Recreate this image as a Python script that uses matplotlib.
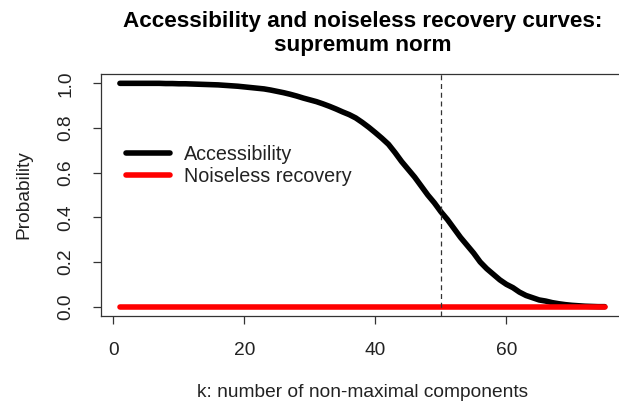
import numpy as np
from matplotlib import pyplot as plt

plt.rcParams['font.family'] = ['Liberation Sans', 'DejaVu Sans']

# k = 1..75
k = np.arange(1, 76)

accessibility = [1.0, 1.0, 1.0, 1.0, 1.0, 1.0, 1.0, 0.999, 0.999, 0.998,
                 0.998, 0.997, 0.996, 0.995, 0.994, 0.993, 0.991, 0.989, 0.987, 0.984,
                 0.981, 0.978, 0.975, 0.970, 0.964, 0.958, 0.951, 0.943, 0.934, 0.926,
                 0.918, 0.908, 0.897, 0.885, 0.872, 0.860, 0.845, 0.825, 0.803, 0.779,
                 0.754, 0.727, 0.690, 0.650, 0.615, 0.580, 0.540, 0.500, 0.465, 0.425,
                 0.390, 0.350, 0.310, 0.275, 0.240, 0.200, 0.170, 0.145, 0.120, 0.100,
                 0.085, 0.065, 0.050, 0.040, 0.030, 0.025, 0.018, 0.013, 0.009, 0.006,
                 0.004, 0.002, 0.001, 0.0, 0.0]
noiseless = [0.0] * 75

k_mark = 50

fig = plt.figure(figsize=(6.19, 4.09), dpi=100)
ax = fig.add_axes([0.1624, 0.2284, 0.8457, 0.5897])

ax.plot(k, accessibility, color='black', lw=4, solid_capstyle='round', label='Accessibility')
ax.plot(k, noiseless, color='red', lw=4, solid_capstyle='round', label='Noiseless recovery')
ax.axvline(k_mark, color='#333333', lw=0.9, ls=(0, (4, 3)))

ax.set_xlim(-1.96, 77.96)
ax.set_ylim(-0.04, 1.04)
ax.set_xticks([0, 20, 40, 60])
ax.set_yticks([0.0, 0.2, 0.4, 0.6, 0.8, 1.0])
ax.set_yticklabels(['0.0', '0.2', '0.4', '0.6', '0.8', '1.0'], rotation=90, va='center')
ax.tick_params(direction='out', length=6, width=0.9, labelsize=13.8, pad=13,
               color='#333333', labelcolor='#222222')
for s in ax.spines.values():
    s.set_linewidth(0.9)
    s.set_color('#333333')

ax.set_xlabel('k: number of non-maximal components', fontsize=13.8, labelpad=18, color='#222222')
ax.set_ylabel('Probability', fontsize=13.8, labelpad=18, color='#222222')
ax.set_title('Accessibility and noiseless recovery curves:\nsupremum norm',
             fontsize=16.2, fontweight='bold', pad=17, linespacing=1.15)

ax.legend(loc='upper left', bbox_to_anchor=(0.015, 0.78), frameon=False, fontsize=14.2,
          handlelength=2.2, handletextpad=0.75, labelspacing=0.15, labelcolor='#222222')

plt.savefig('out.png')
